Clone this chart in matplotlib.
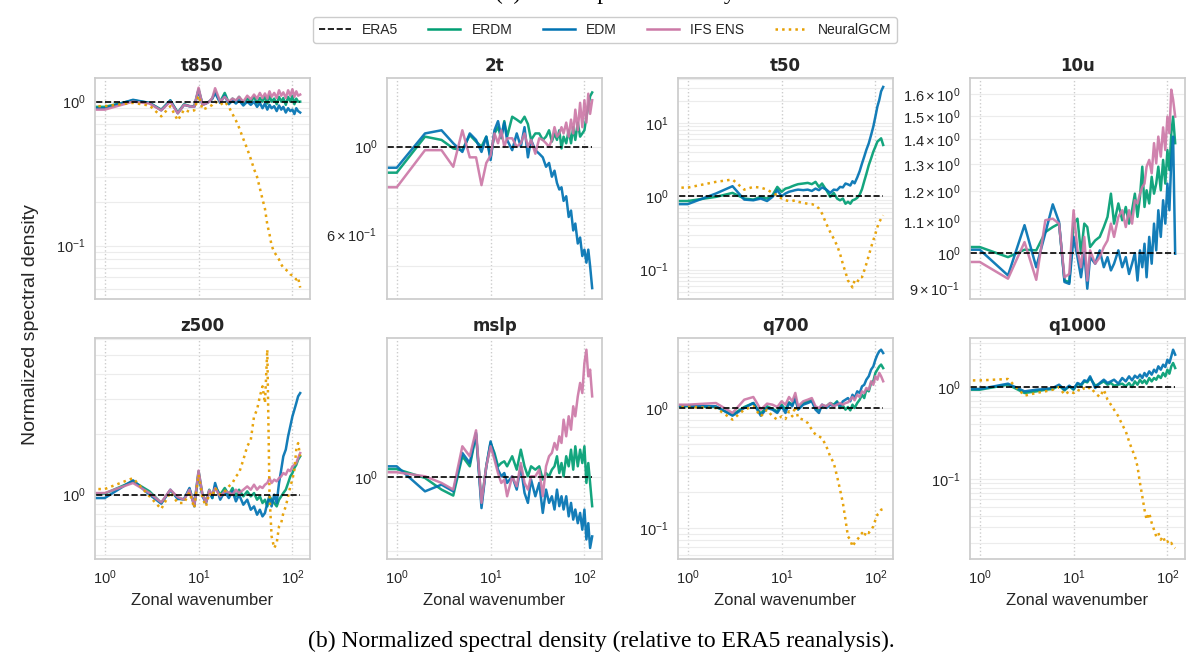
import numpy as np
import matplotlib
matplotlib.use("Agg")
import matplotlib.pyplot as plt
from matplotlib.ticker import MultipleLocator
from matplotlib.lines import Line2D

plt.rcParams["font.family"] = ["Liberation Sans", "DejaVu Sans"]
plt.rcParams["mathtext.fontset"] = "custom"
plt.rcParams["mathtext.rm"] = "Liberation Sans"
plt.rcParams["mathtext.it"] = "Liberation Sans:italic"
plt.rcParams["mathtext.bf"] = "Liberation Sans:bold"

# ---------------- data ----------------
wavenumber = [0, 1, 2, 3, 4, 5, 6, 7, 8, 9,
              10, 11, 12, 13, 14, 15, 17, 19, 21, 23,
              25, 27, 30, 33, 36, 39, 42, 45, 48, 51,
              54, 57, 60, 64, 68, 72, 76, 80, 85, 90,
              95, 100, 105, 110, 115, 121]
era5 = [1.0] * len(wavenumber)

t850_erdm = [0.92, 0.92, 1.02, 0.98, 0.88, 1.02, 0.84, 0.96, 0.93, 0.93,
             1.22, 0.96, 0.98, 1.0, 1.05, 1.18, 1.0, 1.15, 0.98, 1.05,
             1.0, 1.08, 0.97, 1.05, 1.0, 1.08, 0.98, 1.06, 1.0, 1.08,
             0.97, 1.1, 1.0, 1.05, 0.96, 1.08, 1.0, 1.06, 0.95, 1.08,
             1.0, 1.1, 0.96, 1.05, 1.0, 1.0]
t850_edm = [0.90, 0.90, 1.03, 0.98, 0.87, 1.02, 0.83, 0.95, 0.93, 0.92,
            1.20, 0.95, 0.97, 1.0, 1.05, 1.15, 0.98, 1.1, 0.96, 1.02,
            0.97, 1.02, 0.94, 1.0, 0.95, 1.0, 0.92, 0.98, 0.9, 0.97,
            0.88, 0.95, 0.9, 0.93, 0.86, 0.94, 0.88, 0.92, 0.84, 0.9,
            0.86, 0.88, 0.82, 0.9, 0.86, 0.84]
t850_ifs = [0.88, 0.88, 1.0, 0.97, 0.87, 1.0, 0.83, 0.95, 0.93, 0.92,
            1.25, 0.95, 0.97, 1.0, 1.06, 1.24, 1.0, 1.08, 1.0, 1.05,
            1.02, 1.08, 1.0, 1.1, 1.04, 1.12, 1.05, 1.15, 1.06, 1.14,
            1.05, 1.18, 1.08, 1.15, 1.06, 1.2, 1.1, 1.16, 1.06, 1.2,
            1.1, 1.22, 1.08, 1.18, 1.1, 1.12]
t850_ngcm = [0.93, 0.93, 0.98, 0.94, 0.79, 0.93, 0.74, 0.88, 0.85, 0.87,
             1.10, 0.88, 0.9, 0.92, 0.95, 1.0, 0.95, 1.0, 0.92, 0.82,
             0.74, 0.66, 0.55, 0.47, 0.40, 0.34, 0.30, 0.25, 0.21, 0.18,
             0.14, 0.12, 0.10, 0.09, 0.085, 0.08, 0.074, 0.07, 0.068, 0.066,
             0.063, 0.062, 0.06, 0.058, 0.06, 0.051]

t2m_erdm = [0.86, 0.86, 1.06, 1.04, 0.99, 0.98, 1.07, 1.03, 1.0, 1.06,
            0.94, 1.08, 1.12, 1.05, 1.16, 1.06, 1.19, 1.17, 1.15, 1.19,
            1.14, 1.04, 1.08, 1.08, 1.04, 1.06, 1.10, 1.03, 1.08, 1.04,
            1.10, 0.99, 1.06, 1.02, 1.10, 1.02, 1.12, 1.04, 1.15, 1.06,
            1.08, 1.10, 1.19, 1.26, 1.34, 1.37]
t2m_edm = [0.885, 0.885, 1.08, 1.10, 1.02, 0.97, 1.08, 1.04, 0.97, 1.06,
           0.925, 1.10, 1.16, 1.06, 1.15, 1.04, 0.98, 1.08, 1.0, 1.12,
           0.94, 1.04, 0.98, 0.96, 0.94, 0.89, 0.91, 0.84, 0.87, 0.81,
           0.78, 0.79, 0.73, 0.75, 0.665, 0.69, 0.615, 0.64, 0.57, 0.59,
           0.53, 0.55, 0.51, 0.55, 0.50, 0.44]
t2m_ifs = [0.79, 0.79, 0.98, 0.98, 0.89, 1.10, 0.94, 0.94, 0.80, 0.91,
           0.95, 1.08, 1.02, 1.10, 1.0, 1.05, 1.05, 1.0, 1.02, 1.08,
           1.0, 1.04, 0.96, 1.05, 1.04, 1.02, 1.0, 1.04, 1.12, 1.06,
           1.08, 1.12, 1.08, 1.15, 1.06, 1.17, 1.08, 1.24, 1.10, 1.29,
           1.12, 1.31, 1.15, 1.36, 1.21, 1.31]

t50_erdm = [0.86, 0.86, 0.98, 1.11, 0.93, 0.90, 0.98, 0.93, 1.03, 1.34,
            1.15, 1.27, 1.31, 1.37, 1.42, 1.46, 1.49, 1.52, 1.46, 1.57,
            1.34, 1.49, 1.21, 0.98, 1.11, 0.93, 0.88, 0.93, 0.79, 0.84,
            0.79, 0.88, 0.90, 0.95, 1.05, 1.25, 1.60, 2.0, 2.66, 3.28,
            4.05, 4.74, 5.55, 5.85, 6.16, 5.0]
t50_edm = [0.78, 0.78, 1.09, 1.37, 0.90, 0.88, 0.93, 0.86, 0.98, 1.21,
           1.0, 1.09, 1.15, 1.18, 1.21, 1.23, 1.21, 1.23, 1.18, 1.27,
           1.21, 1.32, 1.23, 1.11, 1.23, 1.21, 1.34, 1.32, 1.49, 1.45,
           1.40, 1.60, 1.50, 1.80, 2.20, 2.80, 3.46, 4.27, 5.27, 6.85,
           8.9, 12.2, 16.7, 20.6, 26.9, 30.9]
t50_ngcm = [1.31, 1.31, 1.57, 1.69, 1.23, 1.34, 1.31, 1.23, 1.11, 1.03,
            0.93, 0.88, 0.86, 0.86, 0.88, 0.84, 0.81, 0.79, 0.78, 0.75,
            0.68, 0.58, 0.42, 0.325, 0.263, 0.213, 0.164, 0.119, 0.092, 0.071,
            0.064, 0.057, 0.071, 0.067, 0.079, 0.079, 0.097, 0.119, 0.155, 0.202,
            0.25, 0.308, 0.38, 0.445, 0.494, 0.549]

u10_erdm = [1.018, 1.018, 0.988, 1.01, 1.008, 1.064, 1.08, 1.091, 0.922, 0.918,
            1.091, 1.107, 0.998, 1.091, 1.08, 1.018, 1.038, 1.049, 1.08, 1.113,
            1.192, 1.091, 1.158, 1.102, 1.146, 1.091, 1.135, 1.192, 1.113, 1.181,
            1.291, 1.146, 1.204, 1.158, 1.253, 1.192, 1.228, 1.291, 1.204, 1.317,
            1.228, 1.356, 1.278, 1.425, 1.497, 1.384]
u10_edm = [1.01, 1.01, 0.936, 1.086, 0.959, 1.061, 1.155, 1.096, 0.918, 0.913,
           1.049, 0.988, 0.931, 1.003, 0.90, 0.988, 0.969, 1.008, 0.959, 0.988,
           0.95, 0.969, 1.008, 0.959, 0.988, 0.94, 0.969, 1.0, 0.922, 1.008,
           0.959, 1.028, 0.931, 1.049, 0.969, 1.091, 1.008, 1.135, 1.049, 1.169,
           1.091, 1.228, 1.135, 1.317, 1.411, 0.998]
u10_ifs = [0.974, 0.974, 0.927, 1.033, 0.924, 1.102, 1.107, 1.091, 0.931, 0.94,
           1.135, 1.008, 0.959, 1.049, 0.922, 1.008, 0.969, 0.988, 1.018, 1.038,
           1.091, 1.049, 1.113, 1.135, 1.08, 1.135, 1.091, 1.169, 1.158, 1.192,
           1.216, 1.228, 1.291, 1.317, 1.266, 1.384, 1.304, 1.411, 1.33, 1.45,
           1.356, 1.497, 1.425, 1.621, 1.574, 1.497]

z500_erdm = [1.012, 1.012, 1.166, 1.039, 0.909, 1.051, 0.962, 0.944, 1.067, 0.891,
             1.31, 1.0, 0.926, 1.059, 0.962, 1.10, 1.0, 1.08, 1.0, 1.08,
             0.981, 1.059, 0.981, 1.039, 0.981, 1.019, 0.944, 0.981, 0.909, 0.944,
             0.874, 0.981, 0.944, 0.909, 0.874, 0.944, 0.981, 1.019, 1.059, 1.144,
             1.235, 1.283, 1.36, 1.41, 1.496, 1.555]
z500_edm = [0.962, 0.962, 1.18, 1.0, 0.902, 1.059, 0.951, 0.951, 1.08, 0.874,
            1.283, 0.981, 0.909, 1.039, 0.962, 1.144, 0.944, 1.039, 0.962, 1.039,
            0.926, 1.0, 0.891, 0.944, 0.841, 0.874, 0.794, 0.841, 0.779, 0.81,
            0.909, 0.981, 0.874, 1.0, 0.909, 1.144, 1.334, 1.555, 1.68, 1.96,
            2.20, 2.46, 2.66, 2.87, 3.10, 3.22]
z500_ifs = [1.019, 1.019, 1.144, 1.019, 0.915, 1.059, 0.973, 0.944, 1.059, 0.881,
            1.32, 1.0, 0.915, 1.051, 1.0, 1.08, 0.981, 1.039, 1.027, 1.0,
            1.059, 1.019, 1.059, 1.10, 1.059, 1.122, 1.059, 1.10, 1.08, 1.122,
            1.144, 1.21, 1.144, 1.189, 1.166, 1.21, 1.235, 1.283, 1.259, 1.334,
            1.31, 1.386, 1.41, 1.44, 1.525, 1.615]
z500_ngcm = [1.067, 1.067, 1.21, 0.981, 0.848, 1.027, 0.909, 0.909, 1.027, 0.858,
             1.259, 0.962, 0.874, 1.019, 0.981, 1.08, 1.0, 1.039, 1.10, 1.144,
             1.235, 1.283, 1.496, 1.745, 1.88, 2.46, 2.66, 3.10, 3.48, 2.87,
             5.31, 1.0, 0.619, 0.541, 0.573, 0.694, 0.722, 0.81, 0.874, 0.981,
             1.10, 1.189, 1.334, 1.68, 1.81, 1.555]

mslp_erdm = [1.041, 1.041, 0.997, 0.942, 0.915, 1.108, 1.055, 1.231, 0.883, 1.055,
             1.182, 1.126, 1.055, 1.072, 1.081, 1.055, 1.108, 1.038, 1.144, 1.055,
             1.005, 1.055, 1.038, 1.055, 0.989, 1.021, 1.005, 1.038, 1.055, 1.108,
             1.021, 1.072, 1.005, 1.108, 1.055, 1.144, 1.038, 1.163, 1.055, 1.144,
             1.072, 1.163, 0.973, 1.072, 0.973, 0.869]
mslp_edm = [1.055, 1.055, 0.934, 0.965, 0.934, 1.126, 1.072, 1.241, 0.861, 1.055,
            1.191, 1.108, 1.038, 1.005, 1.021, 0.973, 1.005, 0.942, 1.055, 0.927,
            0.883, 0.989, 0.912, 0.973, 0.841, 0.942, 0.883, 0.912, 0.855, 0.942,
            0.869, 0.912, 0.855, 0.912, 0.827, 0.883, 0.814, 0.855, 0.80, 0.841,
            0.775, 0.855, 0.739, 0.80, 0.709, 0.75]
mslp_ifs = [1.025, 1.025, 1.005, 0.973, 0.942, 1.163, 1.108, 1.257, 0.883, 1.055,
            1.163, 1.09, 1.021, 0.973, 0.989, 0.912, 1.005, 0.957, 1.072, 0.973,
            0.942, 1.005, 1.005, 1.038, 0.912, 1.055, 1.108, 1.126, 1.182, 1.144,
            1.221, 1.182, 1.324, 1.221, 1.346, 1.261, 1.413, 1.346, 1.483, 1.583,
            1.507, 1.744, 1.861, 1.635, 1.689, 1.483]

q700_erdm = [1.033, 1.033, 1.019, 0.88, 1.019, 1.10, 0.897, 1.033, 0.981, 0.938,
             1.066, 0.969, 1.115, 1.066, 1.235, 0.981, 1.10, 1.137, 1.16, 1.0,
             0.969, 1.046, 1.033, 1.10, 1.066, 1.137, 1.0, 1.046, 0.969, 1.019,
             0.956, 1.066, 1.0, 1.10, 1.173, 1.29, 1.21, 1.42, 1.377, 1.62,
             1.67, 1.96, 2.09, 2.22, 2.30, 2.15]
q700_edm = [1.046, 1.046, 1.033, 0.863, 1.0, 1.10, 0.863, 1.0, 0.969, 0.909,
            1.033, 0.909, 1.10, 1.033, 1.21, 0.969, 1.066, 1.10, 1.137, 0.969,
            0.909, 1.066, 1.0, 1.066, 1.033, 1.115, 1.033, 1.137, 1.173, 1.21,
            1.137, 1.29, 1.21, 1.377, 1.334, 1.515, 1.56, 1.72, 1.84, 2.09,
            2.22, 2.53, 2.78, 2.97, 3.06, 2.87]
q700_ifs = [1.066, 1.066, 1.10, 0.909, 1.173, 1.235, 0.969, 1.087, 1.066, 1.019,
            1.137, 1.066, 1.235, 1.137, 1.334, 1.033, 1.137, 1.173, 1.21, 1.033,
            1.0, 1.066, 1.033, 1.10, 1.033, 1.066, 1.10, 1.066, 1.10, 1.115,
            1.173, 1.235, 1.16, 1.29, 1.235, 1.377, 1.334, 1.468, 1.42, 1.67,
            1.56, 1.84, 1.72, 1.96, 1.84, 1.67]
q700_ngcm = [1.019, 1.019, 1.0, 0.80, 0.969, 1.033, 0.852, 0.969, 0.852, 0.80,
             0.852, 0.81, 0.938, 0.852, 1.033, 0.825, 0.80, 0.75, 0.66, 0.60,
             0.58, 0.562, 0.479, 0.395, 0.348, 0.27, 0.209, 0.162, 0.117, 0.085,
             0.08, 0.07, 0.075, 0.08, 0.085, 0.091, 0.085, 0.094, 0.091, 0.097,
             0.103, 0.117, 0.129, 0.133, 0.142, 0.144]

q1000_erdm = [0.935, 0.935, 1.06, 0.861, 0.897, 0.935, 0.951, 1.034, 0.92, 1.017,
              0.935, 1.087, 1.034, 1.152, 1.124, 1.253, 1.034, 1.087, 1.152, 1.06,
              1.105, 1.034, 1.06, 1.087, 1.017, 1.105, 1.0, 1.152, 1.06, 1.201,
              1.105, 1.182, 1.087, 1.253, 1.152, 1.253, 1.201, 1.328, 1.253, 1.42,
              1.306, 1.543, 1.396, 1.678, 1.824, 1.609]
q1000_edm = [0.951, 0.951, 1.087, 0.897, 0.935, 0.951, 0.975, 1.06, 0.935, 1.034,
             0.951, 1.105, 1.06, 1.182, 1.152, 1.306, 0.975, 1.105, 1.201, 1.105,
             1.152, 1.201, 1.087, 1.253, 1.152, 1.306, 1.182, 1.328, 1.253, 1.362,
             1.253, 1.42, 1.306, 1.48, 1.362, 1.543, 1.443, 1.678, 1.543, 1.749,
             1.649, 1.982, 1.824, 2.154, 2.545, 2.246]
q1000_ngcm = [1.18, 1.18, 1.222, 0.805, 0.861, 0.897, 0.935, 1.0, 0.826, 0.897,
              0.861, 0.935, 0.897, 0.975, 0.935, 1.0, 0.861, 0.779, 0.935, 0.729,
              0.642, 0.567, 0.48, 0.389, 0.33, 0.257, 0.209, 0.177, 0.137, 0.0905,
              0.0649, 0.0464, 0.0361, 0.0426, 0.0333, 0.0281, 0.0238, 0.0259, 0.0219, 0.0238,
              0.0202, 0.021, 0.0194, 0.0202, 0.0183, 0.0177]

panel_titles = ["t850", "2t", "t50", "10u", "z500", "mslp", "q700", "q1000"]
panel_series = [
    {"ERDM": t850_erdm, "EDM": t850_edm, "IFS ENS": t850_ifs, "NeuralGCM": t850_ngcm},
    {"ERDM": t2m_erdm, "EDM": t2m_edm, "IFS ENS": t2m_ifs},
    {"ERDM": t50_erdm, "EDM": t50_edm, "NeuralGCM": t50_ngcm},
    {"ERDM": u10_erdm, "EDM": u10_edm, "IFS ENS": u10_ifs},
    {"ERDM": z500_erdm, "EDM": z500_edm, "IFS ENS": z500_ifs, "NeuralGCM": z500_ngcm},
    {"ERDM": mslp_erdm, "EDM": mslp_edm, "IFS ENS": mslp_ifs},
    {"ERDM": q700_erdm, "EDM": q700_edm, "IFS ENS": q700_ifs, "NeuralGCM": q700_ngcm},
    {"ERDM": q1000_erdm, "EDM": q1000_edm, "NeuralGCM": q1000_ngcm},
]

# ---------------- styling / layout ----------------
y_limits = {
    "t850": (0.0425, 1.46), "2t": (0.413, 1.49), "t50": (0.0397, 40.9),
    "10u": (0.873, 1.678), "z500": (0.477, 6.07), "mslp": (0.672, 1.97),
    "q700": (0.0552, 3.83), "q1000": (0.0135, 3.41),
}
x_limits = (0.787, 154)
colors = {"ERDM": "#009E73", "EDM": "#0072B2", "IFS ENS": "#CC79A7", "NeuralGCM": "#E69F00"}
txt = "#262626"

W, H = 1200, 666
fig = plt.figure(figsize=(W / 100, H / 100), dpi=100)
col_left = [95, 387, 678, 970]
row_top = [78, 338]
aw, ah = 215, 221

for i, (name, series) in enumerate(zip(panel_titles, panel_series)):
    r, c = divmod(i, 4)
    ax = fig.add_axes([col_left[c] / W, 1 - (row_top[r] + ah) / H, aw / W, ah / H])
    ax.set_xscale("log")
    ax.set_yscale("log")
    ax.set_axisbelow(True)
    for key in ["ERDM", "EDM", "IFS ENS"]:
        if key in series:
            ax.plot(wavenumber, series[key], color=colors[key], lw=1.8, alpha=0.92,
                    solid_joinstyle="round", zorder=2)
    if "NeuralGCM" in series:
        ax.plot(wavenumber, series["NeuralGCM"], color=colors["NeuralGCM"], lw=1.8,
                ls=":", alpha=0.95, zorder=2.5)
    ax.plot(wavenumber, era5, color="black", ls="--", lw=1.2, zorder=3)

    ax.set_xlim(*x_limits)
    ax.set_ylim(*y_limits[name])
    if name == "10u":
        ax.yaxis.set_minor_locator(MultipleLocator(0.1))

    for s in ax.spines.values():
        s.set_color("#cccccc")
        s.set_linewidth(1.25)
    ax.grid(True, which="major", axis="x", color="#cccccc", ls=":", lw=1.0)
    ax.grid(True, which="both", axis="y", color="#ececec", ls="-", lw=0.8)
    ax.tick_params(which="both", length=0, labelsize=10.5, pad=7, colors=txt)
    ax.set_title(name, fontsize=12, fontweight="bold", fontfamily="DejaVu Sans",
                 pad=5, color=txt)
    if r == 0:
        ax.tick_params(axis="x", which="both", labelbottom=False)
    else:
        ax.set_xlabel("Zonal wavenumber", fontsize=12, labelpad=4, color=txt)

handles = [
    Line2D([], [], color="black", ls="--", lw=1.2),
    Line2D([], [], color=colors["ERDM"], lw=1.8),
    Line2D([], [], color=colors["EDM"], lw=1.8),
    Line2D([], [], color=colors["IFS ENS"], lw=1.8),
    Line2D([], [], color=colors["NeuralGCM"], lw=1.8, ls=":"),
]
labels = ["ERA5", "ERDM", "EDM", "IFS ENS", "NeuralGCM"]
leg = fig.legend(handles, labels, loc="center", bbox_to_anchor=(605 / W, 1 - 30 / H),
                 ncol=5, fontsize=10, frameon=True, fancybox=True, edgecolor="#cccccc",
                 framealpha=1, handlelength=2.3, columnspacing=2.2, handletextpad=0.8,
                 borderpad=0.4)
for t in leg.get_texts():
    t.set_color(txt)

fig.text(31 / W, 1 - 325 / H, "Normalized spectral density", rotation=90,
         ha="center", va="center", fontsize=14, color=txt)
fig.text(601 / W, 1 - 641 / H, "(b) Normalized spectral density (relative to ERA5 reanalysis).",
         ha="center", va="center", fontsize=17, family="Liberation Serif", color="black")
fig.text(615 / W, 1 + 1 / H, "(a) Zonal spectral density", ha="center", va="baseline",
         fontsize=17, family="Liberation Serif", color="black")

fig.savefig("out.png", dpi=100)
